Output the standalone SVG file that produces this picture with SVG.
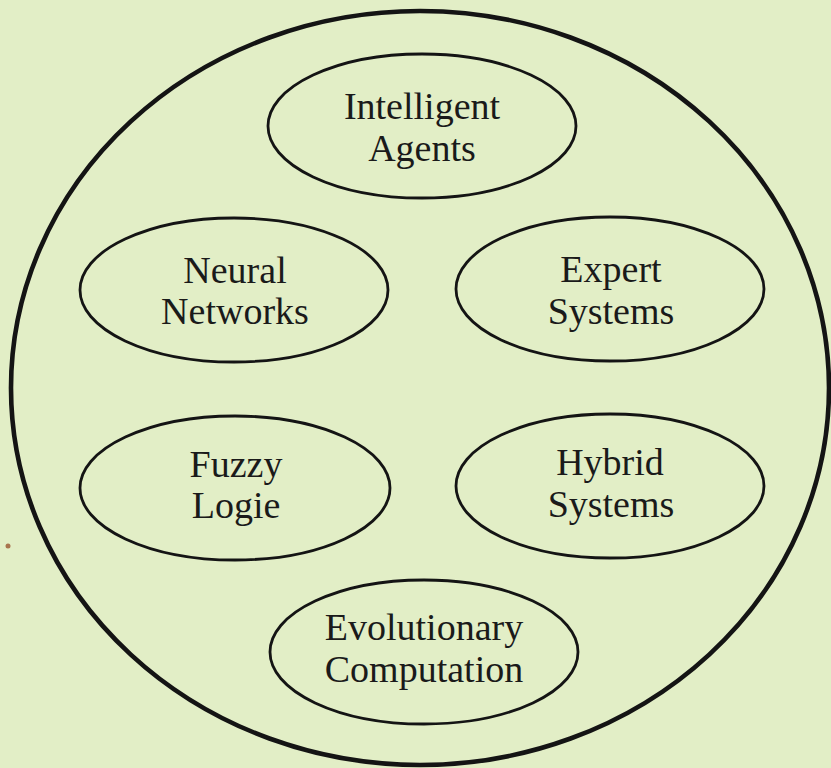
<svg xmlns="http://www.w3.org/2000/svg" width="831" height="768" viewBox="0 0 831 768">
<style>
.bg{fill:#e2eec6}
.outer{fill:none;stroke:#141414;stroke-width:4.6}
.node ellipse{fill:none;stroke:#141414;stroke-width:2.8}
.node text{font-family:"Liberation Serif","Times New Roman",serif;font-size:38px;fill:#1a1a1a;text-anchor:middle}
</style>
<rect class="bg" x="0" y="0" width="831" height="768"/>
<g id="domain">
<ellipse class="outer" cx="420" cy="388" rx="409" ry="377"/>
</g>
<g id="intelligent-agents" class="node">
<ellipse cx="422" cy="126" rx="154" ry="72"/>
<text x="422" y="119">Intelligent</text>
<text x="422" y="161">Agents</text>
</g>
<g id="neural-networks" class="node">
<ellipse cx="234" cy="290" rx="154" ry="72"/>
<text x="235" y="283">Neural</text>
<text x="235" y="324">Networks</text>
</g>
<g id="expert-systems" class="node">
<ellipse cx="610" cy="289" rx="154" ry="72"/>
<text x="611" y="282">Expert</text>
<text x="611" y="324">Systems</text>
</g>
<g id="fuzzy-logic" class="node">
<ellipse cx="235" cy="488" rx="155" ry="72"/>
<text x="236" y="477">Fuzzy</text>
<text x="236" y="518">Logie</text>
</g>
<g id="hybrid-systems" class="node">
<ellipse cx="610" cy="486" rx="154" ry="72"/>
<text x="610" y="475">Hybrid</text>
<text x="611" y="517">Systems</text>
</g>
<g id="evolutionary-computation" class="node">
<ellipse cx="424" cy="652" rx="154" ry="72"/>
<text x="424" y="640">Evolutionary</text>
<text x="424" y="682">Computation</text>
</g>
<g id="connectors"></g>
<circle cx="8" cy="546" r="2.5" fill="#a8744e"/>
</svg>
